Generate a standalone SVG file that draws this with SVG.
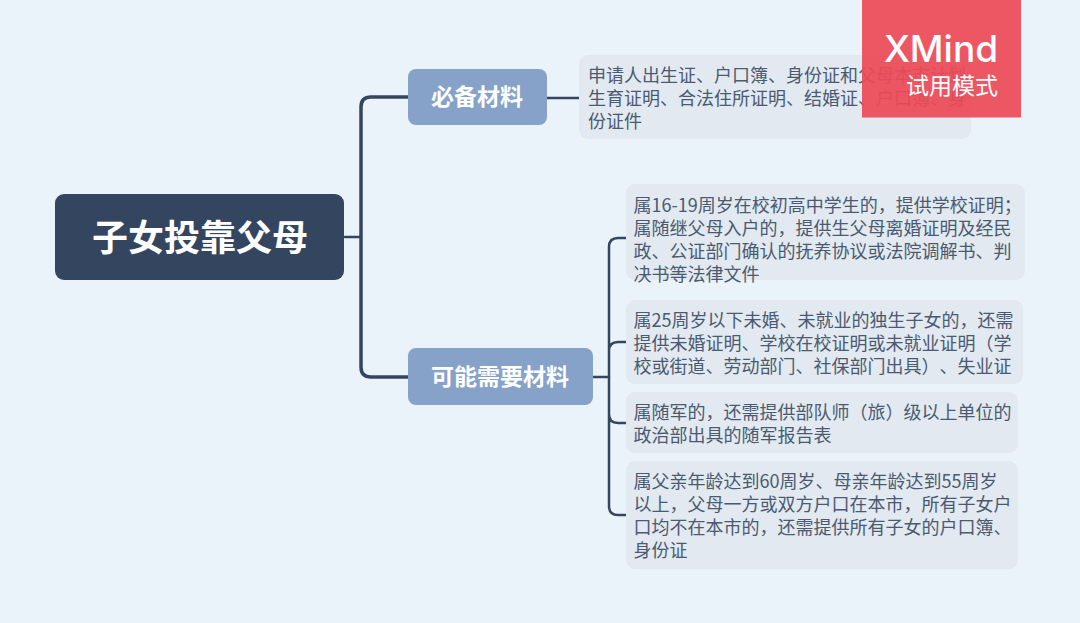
<svg xmlns="http://www.w3.org/2000/svg" width="1080" height="623" viewBox="0 0 1080 623">
<style>
text{font-family:"Noto Sans CJK SC","Noto Sans",sans-serif;text-spacing-trim:space-all}
.c{fill:none;stroke:#34465f;stroke-linecap:round}
.t{fill:#e2e9f1}
.l{font-size:18px;fill:#4a5a70}
.m{font-size:23px;font-weight:700;fill:#fff;text-anchor:middle}
</style>
<rect width="1080" height="623" fill="#ebf3fa"/>
<g id="connectors">
<path class="c" stroke-width="2.500" d="M345 237H361"/>
<path class="c" stroke-width="3.500" d="M408 97H371Q361 97 361 107V367Q361 377 371 377H408"/>
<path class="c" stroke-width="2.500" d="M547 98H579"/>
<path class="c" stroke-width="2.500" d="M593 377H609"/>
<path class="c" stroke-width="2.500" d="M626 238H618Q609 238 609 247V506Q609 515 618 515H626M626 342H618Q609 342 609 351M609 414Q609 423 618 423H626"/>
</g>
<g id="root"><rect x="55" y="194" width="289" height="86" rx="9" fill="#34465f"/><text x="200" y="251" font-size="36" font-weight="700" fill="#fff" text-anchor="middle">子女投靠父母</text></g>
<g id="n1"><rect x="408" y="69" width="139" height="56" rx="8" fill="#86a2c9"/><text class="m" x="477" y="105">必备材料</text></g>
<g id="n2"><rect x="408" y="348" width="185" height="57" rx="8" fill="#86a2c9"/><text class="m" x="500" y="385">可能需要材料</text></g>
<g id="d1"><rect class="t" x="579" y="55" width="392" height="84" rx="9"/><text class="l" x="588" y="82">申请人出生证、户口簿、身份证和父母本市计划</text><text class="l" x="588" y="105">生育证明、合法住所证明、结婚证、户口簿、身</text><text class="l" x="588" y="128">份证件</text></g>
<g id="d2"><rect class="t" x="626" y="184" width="399" height="96" rx="9"/><text class="l" x="633.500" y="212">属16-19周岁在校初高中学生的，提供学校证明；</text><text class="l" x="633.500" y="235">属随继父母入户的，提供生父母离婚证明及经民</text><text class="l" x="633.500" y="258">政、公证部门确认的抚养协议或法院调解书、判</text><text class="l" x="633.500" y="281">决书等法律文件</text></g>
<g id="d3"><rect class="t" x="626" y="300" width="397" height="84" rx="9"/><text class="l" x="633.500" y="327">属25周岁以下未婚、未就业的独生子女的，还需</text><text class="l" x="633.500" y="350">提供未婚证明、学校在校证明或未就业证明（学</text><text class="l" x="633.500" y="373">校或街道、劳动部门、社保部门出具）、失业证</text></g>
<g id="d4"><rect class="t" x="626" y="392" width="392" height="61" rx="9"/><text class="l" x="633.500" y="419">属随军的，还需提供部队师（旅）级以上单位的</text><text class="l" x="633.500" y="442">政治部出具的随军报告表</text></g>
<g id="d5"><rect class="t" x="626" y="461" width="392" height="108" rx="9"/><text class="l" x="633.500" y="488">属父亲年龄达到60周岁、母亲年龄达到55周岁</text><text class="l" x="633.500" y="511">以上，父母一方或双方户口在本市，所有子女户</text><text class="l" x="633.500" y="534">口均不在本市的，还需提供所有子女的户口簿、</text><text class="l" x="633.500" y="557">身份证</text></g>
<g id="watermark"><rect x="862" y="0" width="159" height="117.500" fill="#ec4a57" fill-opacity=".93"/><text x="941" y="62" font-size="37" font-weight="500" fill="#fff" text-anchor="middle" style="font-family:Inter,sans-serif">XMind</text><text x="952" y="94" font-size="23" fill="#fff" text-anchor="middle">试用模式</text></g>
</svg>
